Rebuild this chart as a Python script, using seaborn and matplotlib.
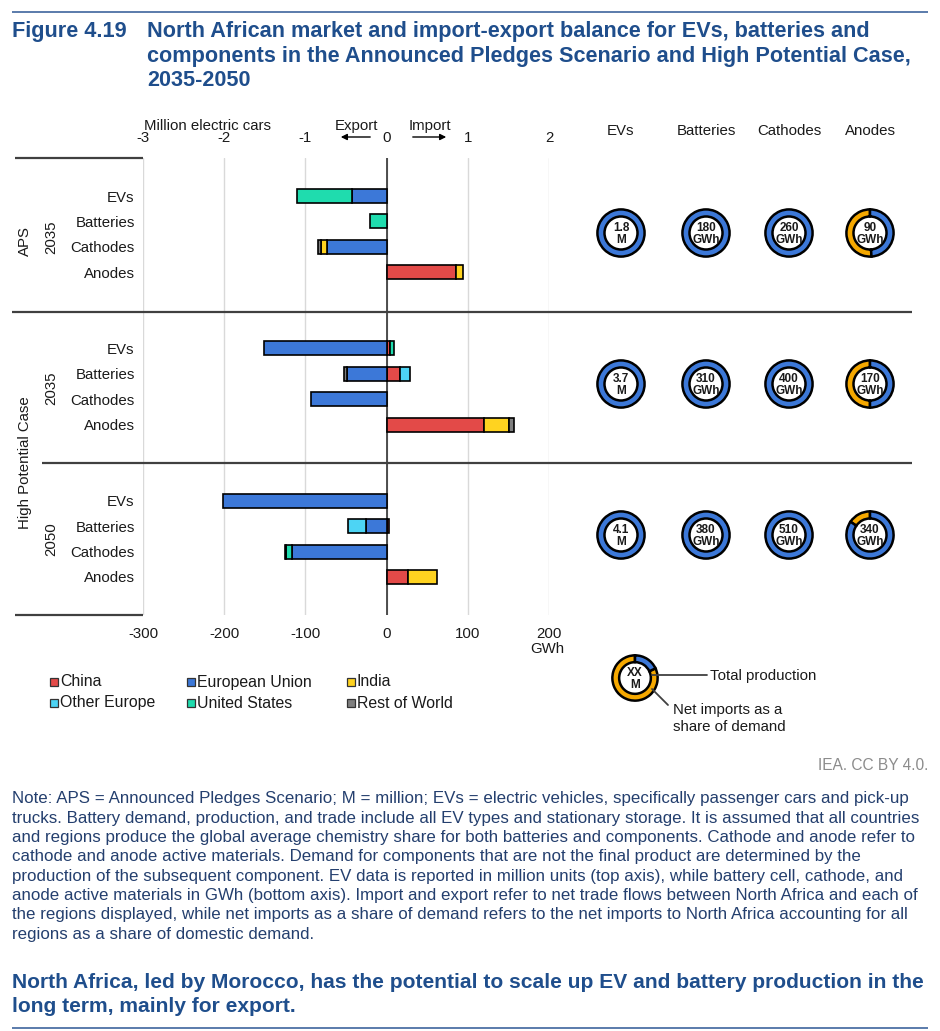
import numpy as np
import matplotlib
matplotlib.use("Agg")
import matplotlib.pyplot as plt
import seaborn as sns
from matplotlib.patches import Rectangle
from matplotlib.lines import Line2D

sns.set_theme(style="white")
plt.rcParams['font.family'] = ['Liberation Sans', 'DejaVu Sans']
plt.rcParams['axes.unicode_minus'] = False

W, H = 940, 1031

# ---------------- data ----------------
products = ["EVs", "Batteries", "Cathodes", "Anodes"]
regions = ["China", "European Union", "India", "Other Europe", "United States", "Rest of World"]
region_colors = ["#e34a48", "#3c78d8", "#ffd320", "#4dd4f4", "#1fdcae", "#7f7f7f"]

# net trade per row: APS 2035 (EVs, Batteries, Cathodes, Anodes), HPC 2035 (...), HPC 2050 (...)
# EVs in million cars, others in GWh
china        = [0.00, 0,   0,    85,    0.04, 17,  0,     119.5, 0.00, 3.5, 0,      26]
eu           = [-0.42, 0,  -73,  0,    -1.51, -49, -93.5, 0,    -2.01, -25, -116.5, 0]
india        = [0.00, 0,   -8,   9.5,   0.00, 0,   0,     31,    0.00, 0,   0,      36.5]
other_europe = [0.00, 0,   0,    0,     0.00, 12,  0,     0,     0.00, -23, 0,      0]
us           = [-0.68, -20, 0,   0,     0.05, 0,   0,     0,     0.00, 0,   -7,     0]
rest_world   = [0.00, 0,   -4,   0,     0.00, -3,  0,     6.5,   0.00, 0,   -2,     0]
is_ev_row    = [True, False, False, False] * 3
GWH_PER_MILLION_CARS_AXIS = 100  # top axis: 1 million cars aligns with 100 on bottom axis

row_positions = [0, 1, 2, 3, 6, 7, 8, 9, 12, 13, 14, 15]

total_production = [["1.8\nM", "180\nGWh", "260\nGWh", "90\nGWh"],
                    ["3.7\nM", "310\nGWh", "400\nGWh", "170\nGWh"],
                    ["4.1\nM", "380\nGWh", "510\nGWh", "340\nGWh"]]
import_share = [[0, 0, 0, 0.51],
                [0, 0, 0, 0.50],
                [0, 0, 0, 0.155]]
legend_share = 0.82

title_color = "#1f4e8c"
note_color = "#243f6e"
TXT = "#1a1a1a"
FS = 10.8

# ---------------- figure ----------------
fig = plt.figure(figsize=(W / 100, H / 100), dpi=100)
fig.patch.set_facecolor("white")

def fx(px):
    return px / W

def fy(py):
    return 1 - py / H

ax = fig.add_axes([fx(143), fy(615), fx(549) - fx(143), fy(158) - fy(615)])
ax.set_facecolor("white")
ax.set_xlim(-300, 200)
ax.set_ylim(16.5, -1.5)

series = [china, eu, india, other_europe, us, rest_world]
pos_base = np.zeros(len(row_positions))
neg_base = np.zeros(len(row_positions))
for vals, col, name in zip(series, region_colors, regions):
    v = np.array([val * GWH_PER_MILLION_CARS_AXIS if ev else val
                  for val, ev in zip(vals, is_ev_row)], dtype=float)
    left = np.where(v >= 0, pos_base, neg_base)
    mask = v != 0
    ax.barh(np.array(row_positions)[mask], v[mask], left=left[mask], height=0.55,
            color=col, edgecolor="black", linewidth=1.2, zorder=3, label=name)
    pos_base = pos_base + np.where(v > 0, v, 0)
    neg_base = neg_base + np.where(v < 0, v, 0)

ax.set_xticks([-300, -200, -100, 0, 100, 200])
ax.set_xticklabels(["-300", "-200", "-100", "0", "100", "200"])
ax.grid(axis="x", color="#d9d9d9", linewidth=1.0, zorder=0)
ax.grid(axis="y", visible=False)
ax.axvline(0, color="#333333", linewidth=1.2, zorder=2)
for s in ax.spines.values():
    s.set_visible(False)
ax.set_yticks(row_positions)
ax.set_yticklabels(products * 3)
ax.tick_params(axis="y", length=0, pad=6, labelsize=FS, labelcolor=TXT)
ax.tick_params(axis="x", length=0, pad=9, labelsize=FS, labelcolor=TXT)

sec = ax.secondary_xaxis("top", functions=(lambda x: x / GWH_PER_MILLION_CARS_AXIS,
                                           lambda x: x * GWH_PER_MILLION_CARS_AXIS))
sec.set_xticks([-3, -2, -1, 0, 1, 2])
sec.set_xticklabels(["-3", "-2", "-1", "0", "1", "2"])
sec.tick_params(length=0, pad=9, labelsize=FS, labelcolor=TXT)
for s in sec.spines.values():
    s.set_visible(False)

# axis titles
fig.text(fx(208), fy(126), "Million electric cars", ha="center", va="center", fontsize=FS, color=TXT)
fig.text(fx(547), fy(649), "GWh", ha="center", va="center", fontsize=FS, color=TXT)
fig.text(fx(356), fy(126), "Export", ha="center", va="center", fontsize=FS, color=TXT)
fig.text(fx(430), fy(126), "Import", ha="center", va="center", fontsize=FS, color=TXT)
fig.add_artist(matplotlib.patches.FancyArrowPatch((fx(373), fy(137)), (fx(338), fy(137)),
               transform=fig.transFigure, arrowstyle="-|>", mutation_scale=9, color="black", lw=1))
fig.add_artist(matplotlib.patches.FancyArrowPatch((fx(410), fy(137)), (fx(449), fy(137)),
               transform=fig.transFigure, arrowstyle="-|>", mutation_scale=9, color="black", lw=1))

# group labels
fig.text(fx(25), fy(241), "APS", rotation=90, ha="center", va="center", fontsize=FS, color=TXT)
fig.text(fx(51), fy(237), "2035", rotation=90, ha="center", va="center", fontsize=FS, color=TXT)
fig.text(fx(25), fy(463), "High Potential Case", rotation=90, ha="center", va="center", fontsize=FS, color=TXT)
fig.text(fx(51), fy(388), "2035", rotation=90, ha="center", va="center", fontsize=FS, color=TXT)
fig.text(fx(51), fy(539), "2050", rotation=90, ha="center", va="center", fontsize=FS, color=TXT)

# separator lines
def hline(x0, x1, y, color="#404040", lw=1.6):
    fig.add_artist(Line2D([fx(x0), fx(x1)], [fy(y), fy(y)], transform=fig.transFigure,
                          color=color, lw=lw, solid_capstyle="butt"))

hline(15, 143, 158)
hline(12, 912, 312)
hline(42, 912, 463)
hline(15, 143, 615)

# column headers for donuts
donut_x = [621, 706, 789, 870]
donut_y = [233, 384, 535]
for x, name in zip(donut_x, products):
    fig.text(fx(x), fy(131), name, ha="center", va="center", fontsize=FS, color=TXT)

BLUE = "#3c78d8"
ORANGE = "#f5a800"

def donut(cx, cy, share, label, size=50):
    dax = fig.add_axes([fx(cx - size / 2), fy(cy + size / 2), size / W, size / H])
    dax.pie([share, 1 - share], colors=[ORANGE, BLUE], startangle=90, counterclock=True,
            radius=1.0, wedgeprops=dict(width=0.30, edgecolor="black", linewidth=1.8))
    dax.set_xlim(-1.06, 1.06)
    dax.set_ylim(-1.06, 1.06)
    dax.set_aspect("equal")
    dax.axis("off")
    dax.text(0, -0.03, label, ha="center", va="center", fontsize=8.5, fontweight="bold",
             color="#1a1a1a", linespacing=1.0)
    return dax

for gi in range(3):
    for pi in range(4):
        donut(donut_x[pi], donut_y[gi], import_share[gi][pi], total_production[gi][pi])

# legend donut
donut(635, 678, legend_share, "XX\nM", size=48)
fig.add_artist(Line2D([fx(652), fx(707)], [fy(675), fy(675)], transform=fig.transFigure, color="#404040", lw=1.3))
fig.text(fx(710), fy(676), "Total production", ha="left", va="center", fontsize=FS, color=TXT)
fig.add_artist(Line2D([fx(652), fx(668)], [fy(689), fy(705)], transform=fig.transFigure, color="#404040", lw=1.3))
fig.text(fx(673), fy(710), "Net imports as a", ha="left", va="center", fontsize=FS, color=TXT)
fig.text(fx(673), fy(727), "share of demand", ha="left", va="center", fontsize=FS, color=TXT)

# region legend
leg_x = [50, 187, 347]
leg_y = [682, 703]
order = [(0, 0), (0, 1), (0, 2), (1, 0), (1, 1), (1, 2)]
for (r, c), name, col in zip(order, regions, region_colors):
    x, y = leg_x[c], leg_y[r]
    fig.add_artist(Rectangle((fx(x), fy(y + 4)), 8 / W, 8 / H, transform=fig.transFigure,
                             facecolor=col, edgecolor="#333333", lw=0.9))
    fig.text(fx(x + 10), fy(y), name, ha="left", va="center", fontsize=11.4, color=TXT)

# title
hline(12, 928, 12, color="#5a7bab", lw=1.4)
fig.text(fx(12), fy(32), "Figure 4.19", ha="left", va="center", fontsize=15.6, fontweight="bold", color=title_color)
title_lines = ["North African market and import-export balance for EVs, batteries and",
               "components in the Announced Pledges Scenario and High Potential Case,",
               "2035-2050"]
for i, t in enumerate(title_lines):
    fig.text(fx(147), fy(32 + 24.5 * i), t, ha="left", va="center", fontsize=15.6,
             fontweight="bold", color=title_color)

fig.text(fx(928), fy(766), "IEA. CC BY 4.0.", ha="right", va="center", fontsize=11.2, color="#8c8c8c")

note_lines = [
    "Note: APS = Announced Pledges Scenario; M = million; EVs = electric vehicles, specifically passenger cars and pick-up",
    "trucks. Battery demand, production, and trade include all EV types and stationary storage. It is assumed that all countries",
    "and regions produce the global average chemistry share for both batteries and components. Cathode and anode refer to",
    "cathode and anode active materials. Demand for components that are not the final product are determined by the",
    "production of the subsequent component. EV data is reported in million units (top axis), while battery cell, cathode, and",
    "anode active materials in GWh (bottom axis). Import and export refer to net trade flows between North Africa and each of",
    "the regions displayed, while net imports as a share of demand refers to the net imports to North Africa accounting for all",
    "regions as a share of domestic demand.",
]
for i, t in enumerate(note_lines):
    fig.text(fx(12), fy(799 + 19.3 * i), t, ha="left", va="center", fontsize=12.2, color=note_color)

bottom_lines = ["North Africa, led by Morocco, has the potential to scale up EV and battery production in the",
                "long term, mainly for export."]
for i, t in enumerate(bottom_lines):
    fig.text(fx(12), fy(982 + 24 * i), t, ha="left", va="center", fontsize=15.1,
             fontweight="bold", color=title_color)
hline(12, 928, 1028, color="#5a7bab", lw=1.4)

fig.savefig("out.png", dpi=100, facecolor="white")
